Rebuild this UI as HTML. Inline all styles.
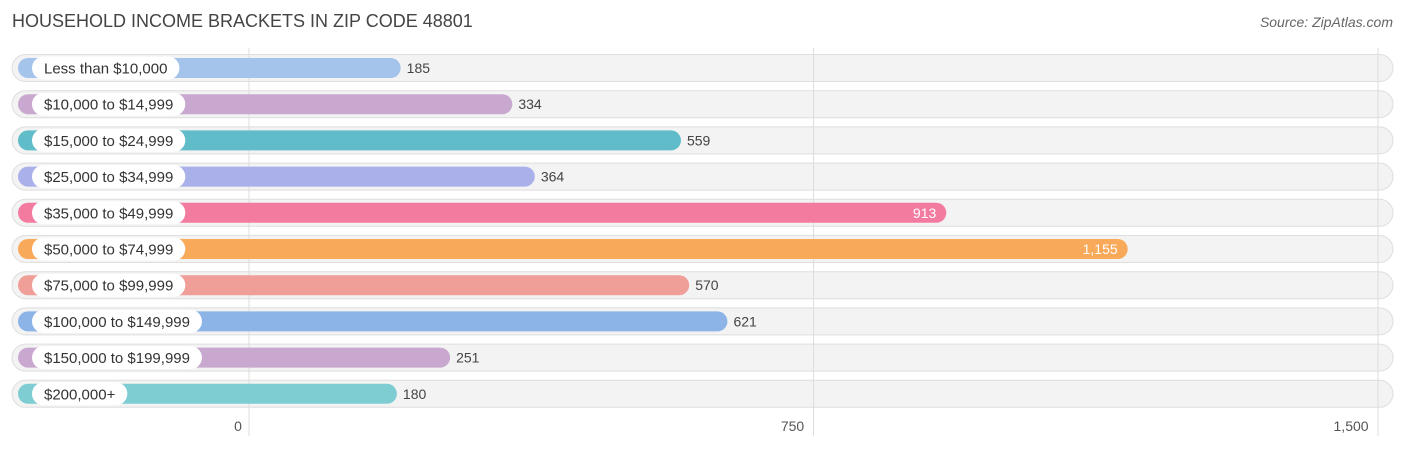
<!DOCTYPE html>
<html><head><meta charset="utf-8"><style>
body{margin:0;background:#fff;font-family:"Liberation Sans",sans-serif}
svg{display:block}
</style></head><body>
<svg id="c" width="1406" height="449">
<text x="12" y="27" font-size="18" fill="#444">HOUSEHOLD INCOME BRACKETS IN ZIP CODE 48801</text>
<text x="1393" y="27" font-size="14" fill="#666" font-style="italic" text-anchor="end">Source: ZipAtlas.com</text>
<g id="bgs"></g><g id="grid"></g><g id="rows"></g><g id="ticks"></g>
</svg>
<script>
const categories=["Less than $10,000","$10,000 to $14,999","$15,000 to $24,999","$25,000 to $34,999","$35,000 to $49,999","$50,000 to $74,999","$75,000 to $99,999","$100,000 to $149,999","$150,000 to $199,999","$200,000+"];
const values=[185,334,559,364,913,1155,570,621,251,180];
const colors=["#a4c4ec","#c9a8cf","#5fbcc8","#aab0ea","#f47ba0","#f8a95a","#ef9e98","#8db4e6","#c9a8cf","#7ecdd2"];
const tickValues=[0,750,1500];
const tickLabels=["0","750","1,500"];
const NS="http://www.w3.org/2000/svg";
const svg=document.getElementById('c');
function mk(t,a,p){const e=document.createElementNS(NS,t);for(const k in a)e.setAttribute(k,a[k]);(p||svg).appendChild(e);return e;}
function gx(v){return 249+v*0.7527;}
function bx(v){return 262+v*0.7495;}
function ry(i){return 68+i*36.2;}
const bgs=document.getElementById('bgs'),grid=document.getElementById('grid'),rows=document.getElementById('rows'),ticks=document.getElementById('ticks');
tickValues.forEach((v,i)=>{
 const l=mk('line',{x1:gx(v),x2:gx(v),y1:48,y2:436,stroke:'#ddd','stroke-width':1},grid);
 
 
 const t=mk('text',{x:gx(v)-(i==0?11:i==1?21:27),y:431,'font-size':14,fill:'#555','text-anchor':'middle'},ticks);
 t.textContent=tickLabels[i];
 
 
});
categories.forEach((c,i)=>{
 const y=ry(i);
 const bg=mk('rect',{x:12,y:y-13.5,width:1381,height:27,rx:13.5,fill:'#f3f3f3',stroke:'#dedede','stroke-width':1},bgs);
 
 
 const g=mk('g',{},rows);
 
 
 const b=mk('rect',{x:18,y:y-10,width:bx(values[i])-18,height:20,rx:10,fill:colors[i]},g);
 
 
 const lp=mk('rect',{x:32,y:y-11.5,width:156,height:23,rx:11.5,fill:'#fff'},g);
 
 
 const lt=mk('text',{x:44,y:y+5.5,'font-size':15,fill:'#333'},g);
 lt.textContent=c;
 
 
 lp.setAttribute('width',lt.getComputedTextLength()+24);
 const inside=values[i]>800;
 const vt=mk('text',{x:inside?bx(values[i])-10:bx(values[i])+6,y:y+5,'font-size':14,fill:inside?'#fff':'#444','text-anchor':inside?'end':'start'},g);
 vt.textContent=values[i].toLocaleString('en-US');
 
 
});
</script>
</body></html>
